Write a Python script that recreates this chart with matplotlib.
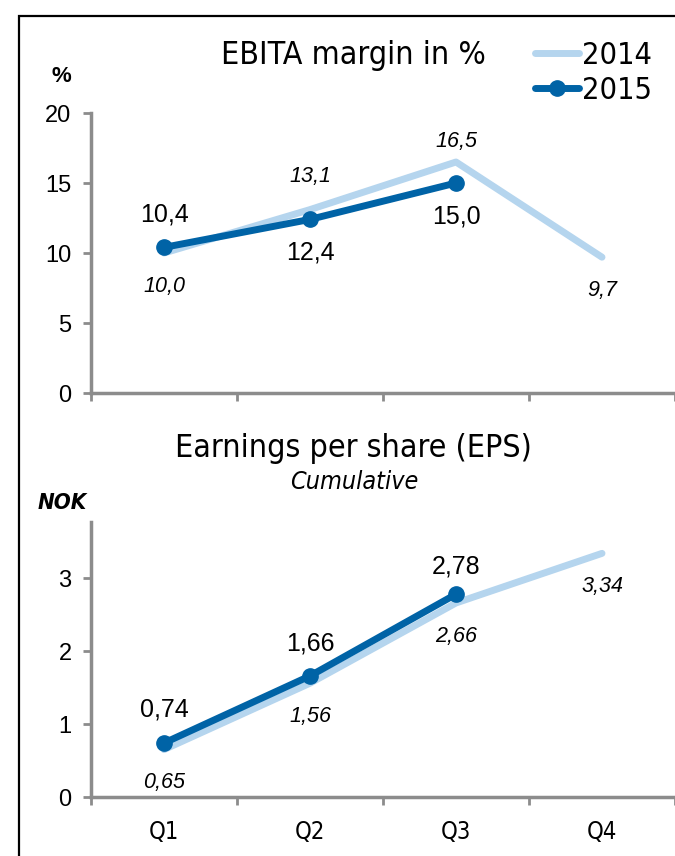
import matplotlib.pyplot as plt
from matplotlib.patches import Rectangle

# data
quarters = ["Q1", "Q2", "Q3", "Q4"]
ebita_2014 = [10.0, 13.1, 16.5, 9.7]
ebita_2015 = [10.4, 12.4, 15.0]
eps_2014 = [0.65, 1.56, 2.66, 3.34]
eps_2015 = [0.74, 1.66, 2.78]

c14 = "#b5d5ee"
c15 = "#0063a6"
grey = "#8c8c8c"
num_font = ["Liberation Sans", "DejaVu Sans"]
head_font = ["Liberation Sans Narrow", "DejaVu Sans"]


def fmt(v, nd):
    return f"{v:.{nd}f}".replace(".", ",")


def style_axes(ax, ymax, yticks):
    ax.set_xlim(-0.5, 3.5)
    ax.set_ylim(0, ymax)
    ax.set_yticks(yticks)
    ax.set_xticks([-0.5, 0.5, 1.5, 2.5, 3.5])
    ax.set_xticklabels([])
    ax.tick_params(axis="x", length=6, width=2, color=grey)
    ax.tick_params(axis="y", length=6, width=2, color=grey, labelsize=17, pad=8)
    for lab in ax.get_yticklabels():
        lab.set_family(num_font)
    for s in ["top", "right"]:
        ax.spines[s].set_visible(False)
    for s in ["left", "bottom"]:
        ax.spines[s].set_color(grey)
        ax.spines[s].set_linewidth(2.5)


def labels(ax, xs, vals, nd, offsets, italic):
    for x, v, dy in zip(xs, vals, offsets):
        ax.annotate(fmt(v, nd), (x, v), xytext=(0, dy),
                    textcoords="offset points", ha="center", va="center",
                    fontsize=15.5 if italic else 18, family=num_font,
                    style="italic" if italic else "normal", color="black")


fig = plt.figure(figsize=(6.75, 8.56), dpi=100)

# top chart: EBITA margin
ax1 = fig.add_axes([91 / 675, 463 / 856, 1 - 91 / 675, 280 / 856])
style_axes(ax1, 20, [0, 5, 10, 15, 20])
ax1.plot(range(4), ebita_2014, color=c14, lw=5, solid_capstyle="round", label="2014")
ax1.plot(range(3), ebita_2015, color=c15, lw=5, marker="o", ms=11,
         solid_capstyle="round", label="2015")
labels(ax1, range(4), ebita_2014, 1, [-24, 24, 15, -24], True)
labels(ax1, range(3), ebita_2015, 1, [24, -24, -24], False)
ax1.text(0.45, 1.207, "EBITA margin in %", transform=ax1.transAxes, ha="center",
         va="center", fontsize=23, family=head_font, stretch="condensed")
ax1.text(-0.05, 1.13, "%", transform=ax1.transAxes, ha="center", va="center",
         fontsize=16, family=num_font, weight="bold")
ax1.legend(loc="upper left", bbox_to_anchor=(535 / 675, 1 - 41 / 856),
           bbox_transform=fig.transFigure, frameon=False, borderpad=0,
           borderaxespad=0, prop={"family": head_font, "size": 22, "stretch": "condensed"},
           handlelength=1.45, handletextpad=0.1, labelspacing=0.2)

# bottom chart: EPS
ax2 = fig.add_axes([91 / 675, 59 / 856, 1 - 91 / 675, 275 / 856])
style_axes(ax2, 3.77, [0, 1, 2, 3])
ax2.plot(range(4), eps_2014, color=c14, lw=5, solid_capstyle="round")
ax2.plot(range(3), eps_2015, color=c15, lw=5, marker="o", ms=11, solid_capstyle="round")
labels(ax2, range(4), eps_2014, 2, [-24, -24, -24, -24], True)
labels(ax2, range(3), eps_2015, 2, [24, 23, 20], False)
for i, q in enumerate(quarters):
    ax2.text(i, -0.48, q, ha="center", va="center", fontsize=17, family=head_font,
             stretch="condensed")
ax2.text(0.45, 1.269, "Earnings per share (EPS)", transform=ax2.transAxes,
         ha="center", va="center", fontsize=23, family=head_font, stretch="condensed")
ax2.text(0.45, 1.145, "Cumulative", transform=ax2.transAxes, ha="center",
         va="center", fontsize=18, family=head_font, style="italic", stretch="condensed")
ax2.text(-0.05, 1.069, "NOK", transform=ax2.transAxes, ha="center", va="center",
         fontsize=16, family=head_font, style="italic", weight="bold", stretch="condensed")

# outer frame (left and top edges visible)
fig.add_artist(Rectangle((19 / 675, -0.1), 1.0, 1.1 - 16 / 856, transform=fig.transFigure,
                         fill=False, edgecolor="black", lw=1.6))

fig.savefig("out.png", dpi=100)
